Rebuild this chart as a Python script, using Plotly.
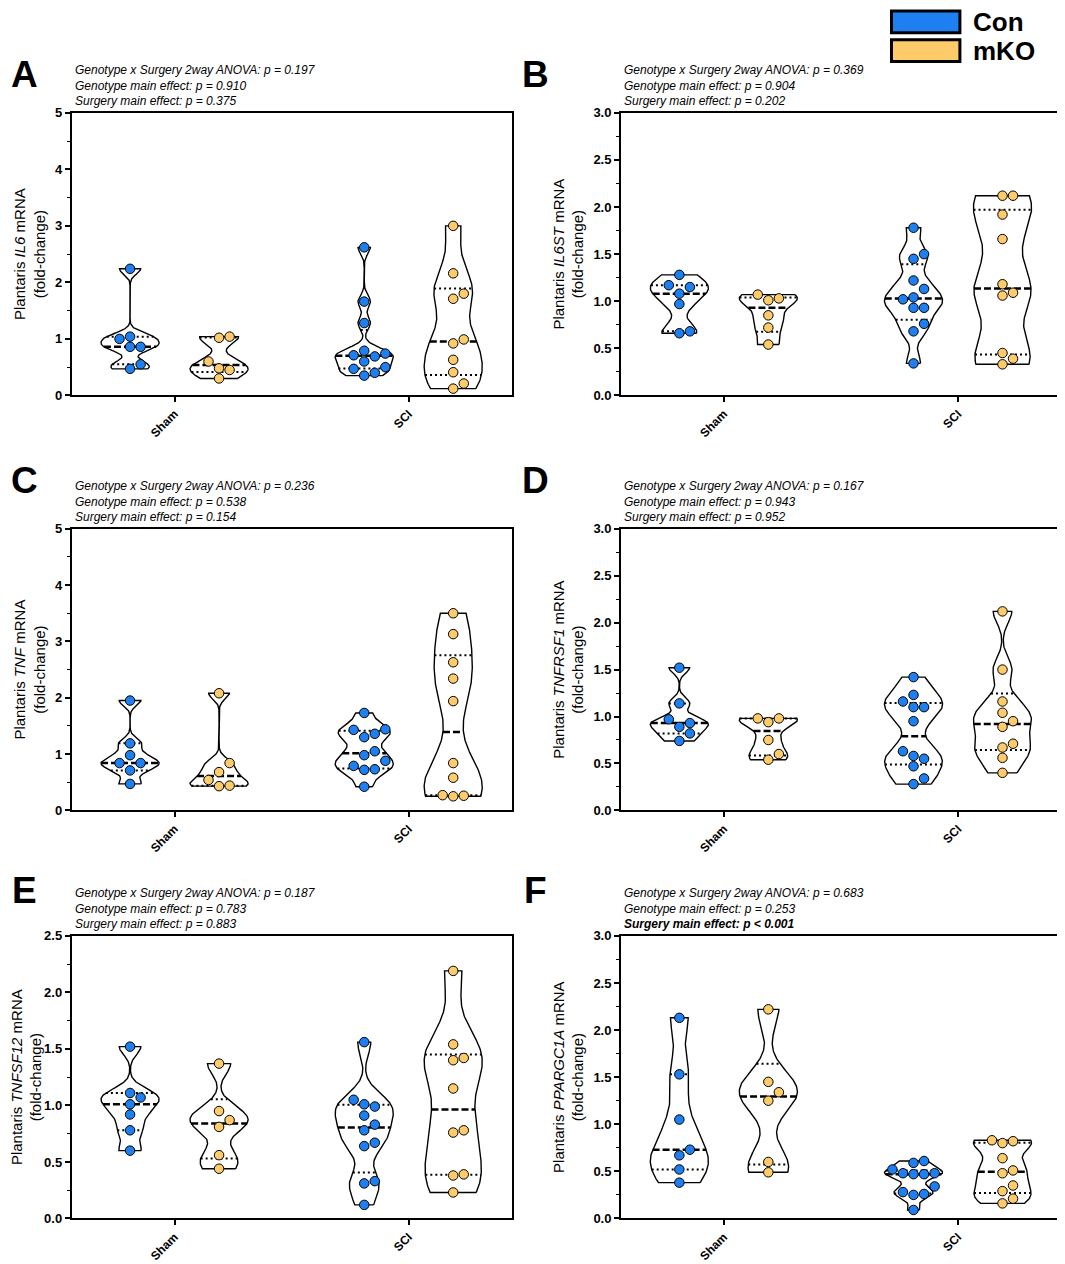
import numpy as np
import plotly.graph_objects as go

# groups on the x axis and the two genotypes
conditions = ["Sham", "SCI"]
genotypes = ["Con", "mKO"]
geno_colors = ["#1E80F0", "#FDCB69"]

# A - IL6
il6_con_sham = [2.24, 1.00, 1.04, 0.86, 0.86, 0.55, 0.47]
il6_mko_sham = [1.02, 1.04, 0.60, 0.48, 0.45, 0.30]
il6_con_sci = [2.62, 1.66, 1.28, 0.79, 0.74, 0.71, 0.69, 0.60, 0.50, 0.47, 0.40, 0.35]
il6_mko_sci = [3.00, 2.16, 1.80, 1.71, 0.99, 0.92, 0.63, 0.41, 0.21, 0.12]
il6_p = ["0.197", "0.910", "0.375"]

# B - IL6ST
il6st_con_sham = [1.28, 1.17, 1.15, 1.08, 0.97, 0.68, 0.66]
il6st_mko_sham = [1.07, 1.03, 1.01, 0.85, 0.72, 0.54]
il6st_con_sci = [1.78, 1.50, 1.45, 1.22, 1.13, 1.04, 1.02, 0.93, 0.93, 0.76, 0.68, 0.34]
il6st_mko_sci = [2.12, 2.12, 1.92, 1.66, 1.18, 1.09, 1.06, 0.45, 0.39, 0.33]
il6st_p = ["0.369", "0.904", "0.202"]

# C - TNF
tnf_con_sham = [1.95, 1.19, 0.98, 0.84, 0.84, 0.71, 0.47]
tnf_mko_sham = [2.08, 0.84, 0.68, 0.54, 0.44, 0.43]
tnf_con_sci = [1.73, 1.44, 1.43, 1.36, 1.30, 1.05, 0.98, 0.88, 0.79, 0.73, 0.72, 0.42]
tnf_mko_sci = [3.50, 3.13, 2.63, 2.34, 1.94, 0.84, 0.58, 0.27, 0.26, 0.25]
tnf_p = ["0.236", "0.538", "0.154"]

# D - TNFRSF1
tnfrsf1_con_sham = [1.52, 1.14, 0.97, 0.93, 0.89, 0.82, 0.74]
tnfrsf1_mko_sham = [0.98, 0.98, 0.94, 0.75, 0.60, 0.54]
tnfrsf1_con_sci = [1.42, 1.23, 1.16, 1.10, 1.10, 0.95, 0.63, 0.58, 0.55, 0.47, 0.34, 0.28]
tnfrsf1_mko_sci = [2.12, 1.50, 1.16, 1.04, 0.95, 0.89, 0.71, 0.67, 0.56, 0.40]
tnfrsf1_p = ["0.167", "0.943", "0.952"]

# E - TNFSF12
tnfsf12_con_sham = [1.52, 1.11, 1.07, 1.01, 0.92, 0.78, 0.60]
tnfsf12_mko_sham = [1.37, 0.95, 0.87, 0.81, 0.56, 0.44]
tnfsf12_con_sci = [1.56, 1.05, 1.01, 0.99, 0.91, 0.83, 0.78, 0.67, 0.64, 0.33, 0.31, 0.12]
tnfsf12_mko_sci = [2.19, 1.54, 1.42, 1.40, 1.15, 0.78, 0.76, 0.39, 0.38, 0.23]
tnfsf12_p = ["0.187", "0.783", "0.883"]

# F - PPARGC1A
ppargc1a_con_sham = [2.13, 1.53, 1.05, 0.73, 0.67, 0.52, 0.38]
ppargc1a_mko_sham = [2.22, 1.45, 1.34, 1.25, 0.60, 0.49]
ppargc1a_con_sci = [0.61, 0.59, 0.52, 0.48, 0.48, 0.47, 0.47, 0.34, 0.28, 0.26, 0.25, 0.09]
ppargc1a_mko_sci = [0.83, 0.82, 0.80, 0.64, 0.51, 0.48, 0.35, 0.29, 0.21, 0.16]
ppargc1a_p = ["0.683", "0.253", "< 0.001"]

panels = [
    ("A", "IL6", 5, 1, [[il6_con_sham, il6_mko_sham], [il6_con_sci, il6_mko_sci]], il6_p, False),
    ("B", "IL6ST", 3, 0.5, [[il6st_con_sham, il6st_mko_sham], [il6st_con_sci, il6st_mko_sci]], il6st_p, False),
    ("C", "TNF", 5, 1, [[tnf_con_sham, tnf_mko_sham], [tnf_con_sci, tnf_mko_sci]], tnf_p, False),
    ("D", "TNFRSF1", 3, 0.5, [[tnfrsf1_con_sham, tnfrsf1_mko_sham], [tnfrsf1_con_sci, tnfrsf1_mko_sci]], tnfrsf1_p, False),
    ("E", "TNFSF12", 2.5, 0.5, [[tnfsf12_con_sham, tnfsf12_mko_sham], [tnfsf12_con_sci, tnfsf12_mko_sci]], tnfsf12_p, False),
    ("F", "PPARGC1A", 3, 0.5, [[ppargc1a_con_sham, ppargc1a_mko_sham], [ppargc1a_con_sci, ppargc1a_mko_sci]], ppargc1a_p, True),
]

# page body has an 8px margin, so the figure is made 8px smaller and every
# position (measured on the reference picture) is shifted back by 8px
OFF = 8
W, H = 1065 - OFF, 1264 - OFF
FONT = "Arial, Liberation Sans, sans-serif"
XRANGE = [-0.44, 1.44]
GENO_OFFSET = [-0.19, 0.19]
HALF_W = 0.124       # max half width of a violin, x units
DIAM = 9.5           # marker diameter, px

col_x = [(63, 507), (617, 1061)]
row_y = [(107, 393), (528, 813), (940, 1226)]


def fx(px):
    return (px - OFF) / W


def fy(py):
    return 1 - (py - OFF) / H


def kde(vals, grid, bw):
    v = np.asarray(vals)
    g = np.atleast_1d(grid)
    return np.exp(-0.5 * ((g[:, None] - v[None, :]) / bw) ** 2).sum(axis=1)


def bandwidth(vals):
    v = np.asarray(vals)
    sd = v.std(ddof=1)
    q75, q25 = np.percentile(v, [75, 25])
    return 0.65 * 0.9 * min(sd, (q75 - q25) / 1.34) * len(v) ** -0.2


def swarm(vals, px_x, px_y):
    # simple beeswarm: place points low to high, first free slot wins
    v = np.asarray(vals)
    offs = np.zeros(len(v))
    placed = []
    step = DIAM * 1.12
    for i in np.argsort(v):
        y = v[i] * px_y
        ok = 0.0
        for k in range(0, 20):
            cands = [0.0] if k == 0 else [k * step, -k * step]
            found = False
            for c in cands:
                if all((c - px) ** 2 + (y - py) ** 2 >= DIAM ** 2 for px, py in placed):
                    ok, found = c, True
                    break
            if found:
                break
        placed.append((ok, y))
        offs[i] = ok / px_x
    return offs


fig = go.Figure()
annotations = []
layout_axes = {}

for p, (letter, gene, ymax, dtick, data, pvals, bold_last) in enumerate(panels):
    r, c = divmod(p, 2)
    x0, x1 = col_x[c]
    ytop, ybot = row_y[r]
    n = "" if p == 0 else str(p + 1)
    xa, ya = "x" + n, "y" + n
    px_x = (x1 - x0) / (XRANGE[1] - XRANGE[0])
    px_y = (ybot - ytop) / ymax

    outlines, lines, dots = [], [], []
    for ci, cond in enumerate(conditions):
        for gi, geno in enumerate(genotypes):
            vals = np.asarray(data[ci][gi])
            xc = ci + GENO_OFFSET[gi]
            bw = bandwidth(vals)
            grid = np.linspace(vals.min(), vals.max(), 150)
            dens = kde(vals, grid, bw)
            dmax = dens.max()
            w = HALF_W * dens / dmax
            xs = np.concatenate([xc + w, xc - w[::-1], [xc + w[0]]])
            ys = np.concatenate([grid, grid[::-1], [grid[0]]])
            outlines.append(go.Scatter(x=xs, y=ys, mode="lines", fill="toself", fillcolor="white",
                                       line=dict(color="black", width=1.4), xaxis=xa, yaxis=ya,
                                       hoverinfo="skip", showlegend=False))
            q1, med, q3 = np.percentile(vals, [25, 50, 75], method="weibull")
            for q, dash, lw in [(q1, "2px,3px", 2), (q3, "2px,3px", 2), (med, "7px,3px", 2.5)]:
                hw = HALF_W * kde(vals, q, bw)[0] / dmax
                lines.append(go.Scatter(x=[xc - hw, xc + hw], y=[q, q], mode="lines",
                                        line=dict(color="black", width=lw, dash=dash),
                                        xaxis=xa, yaxis=ya, hoverinfo="skip", showlegend=False))
            offs = swarm(vals, px_x, px_y)
            dots.append(go.Scatter(x=xc + offs, y=vals, mode="markers", name=geno,
                                   marker=dict(size=DIAM, color=geno_colors[gi],
                                               line=dict(color="black", width=1)),
                                   xaxis=xa, yaxis=ya, showlegend=False))
    fig.add_traces(outlines + lines + dots)

    dom_x = [fx(x0), fx(x1)]
    dom_y = [fy(ybot), fy(ytop)]
    axis_common = dict(showline=True, linecolor="black", linewidth=1.5, mirror=True,
                       showgrid=False, zeroline=False, ticks="outside", tickcolor="black",
                       tickwidth=1.5, ticklen=5)
    layout_axes["xaxis" + n] = dict(axis_common, domain=dom_x, anchor=ya, range=XRANGE,
                                    tickvals=[0, 1], ticktext=conditions, tickangle=-45,
                                    tickfont=dict(family=FONT, size=12, color="black", weight="bold"))
    layout_axes["yaxis" + n] = dict(axis_common, domain=dom_y, anchor=xa, range=[0, ymax],
                                    dtick=dtick, tick0=0, tickformat="d" if dtick == 1 else ".1f",
                                    tickfont=dict(family=FONT, size=13, color="black", weight="bold"),
                                    minor=dict(dtick=dtick / 2, ticks="outside", ticklen=3,
                                               tickcolor="black", tickwidth=1.2),
                                    title=dict(text=f"Plantaris <i>{gene}</i> mRNA<br>(fold-change)",
                                               font=dict(family=FONT, size=15, color="black"),
                                               standoff=6))

    rel = [pv if pv.startswith("<") else f"= {pv}" for pv in pvals]
    stat_lines = [f"Genotype x Surgery 2way ANOVA: p {rel[0]}",
                  f"Genotype main effect: p {rel[1]}",
                  f"Surgery main effect: p {rel[2]}"]
    stat_lines = [f"<i>{s}</i>".replace("<i><", "<i>&lt;").replace("p <", "p &lt;") for s in stat_lines]
    if bold_last:
        stat_lines[2] = f"<b>{stat_lines[2]}</b>"
    annotations.append(dict(text="<br>".join(stat_lines), xref="paper", yref="paper",
                            x=fx(x0 + 1), y=fy(ytop - 3), xanchor="left", yanchor="bottom",
                            align="left", showarrow=False,
                            font=dict(family=FONT, size=12, color="black")))
    letter_y = [68, 479, 894][r]
    letter_x = [16, 531][c]
    annotations.append(dict(text=f"<b>{letter}</b>", xref="paper", yref="paper",
                            x=fx(letter_x), y=fy(letter_y), xanchor="center", yanchor="middle",
                            showarrow=False, font=dict(family=FONT, size=37, color="black")))

# legend drawn as boxes + labels, top right
shapes = []
for gi, geno in enumerate(genotypes):
    top = [4, 33][gi]
    shapes.append(dict(type="rect", xref="paper", yref="paper", x0=fx(890), x1=fx(959),
                       y0=fy(top + 22), y1=fy(top), fillcolor=geno_colors[gi],
                       line=dict(color="black", width=3)))
    annotations.append(dict(text=f"<b>{geno}</b>", xref="paper", yref="paper", x=fx(970),
                            y=fy(top + 11), xanchor="left", yanchor="middle", showarrow=False,
                            font=dict(family=FONT, size=26, color="black")))

fig.update_layout(width=W, height=H, margin=dict(l=0, r=0, t=0, b=0),
                  plot_bgcolor="white", paper_bgcolor="white", showlegend=False,
                  font=dict(family=FONT, color="black"),
                  annotations=annotations, shapes=shapes, **layout_axes)

fig.write_html("out.html")
